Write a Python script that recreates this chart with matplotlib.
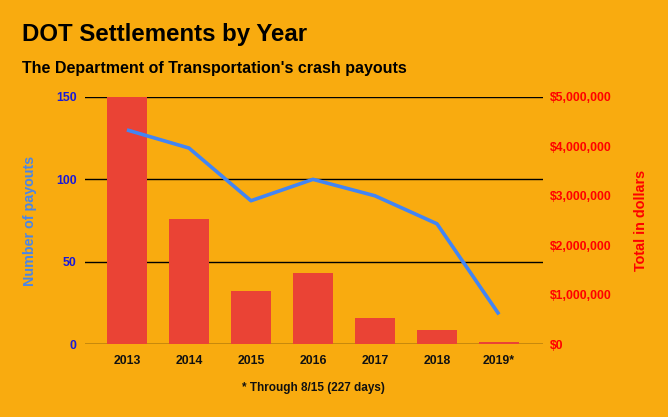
import matplotlib
matplotlib.use("Agg")
import matplotlib.pyplot as plt
from matplotlib.ticker import FuncFormatter

years = ["2013", "2014", "2015", "2016", "2017", "2018", "2019*"]
payouts = [130, 119, 87, 100, 90, 73, 18]
dollars = [5000000, 2525000, 1065000, 1430000, 520000, 277000, 35000]

left_ticks = [0, 50, 100, 150]
right_ticks = [0, 1000000, 2000000, 3000000, 4000000, 5000000]

bg = "#F9AB0F"
bar_color = "#EA4335"
line_color = "#4285F4"

plt.rcParams["font.family"] = ["Liberation Sans", "DejaVu Sans"]
plt.rcParams["font.weight"] = "bold"

fig = plt.figure(figsize=(6.68, 4.17), dpi=100, facecolor=bg)
ax = fig.add_axes([0.1272, 0.175, 0.6857, 0.5924])
ax2 = ax.twinx()

# bars on the right (dollar) axis, drawn below the line axis
x = range(len(years))
ax2.bar(x, dollars, width=0.645, color=bar_color, zorder=2)
ax2.set_ylim(0, 5000000)
ax2.set_yticks(right_ticks)
ax2.yaxis.set_major_formatter(FuncFormatter(lambda v, p: "${:,.0f}".format(v)))
ax2.tick_params(axis="y", length=0, pad=5, labelsize=8.8, labelcolor="#FF0000")
ax2.set_ylabel("Total in dollars", color="#FF0000", fontsize=10.4, fontweight="bold", labelpad=16)

# gridlines follow the left axis ticks
for t in left_ticks:
    ax2.axhline(t / 150 * 5000000, color="black", lw=1, zorder=1)

ax.plot(x, payouts, color=line_color, lw=2.6, solid_capstyle="butt", zorder=3)
ax.set_ylim(0, 150)
ax.set_yticks(left_ticks)
ax.tick_params(axis="y", length=0, pad=6, labelsize=8.8, labelcolor="#1A1AD8")
ax.set_ylabel("Number of payouts", color="#4A86E8", fontsize=10.3, fontweight="bold", labelpad=14)
ax.set_xlim(-0.677, 6.71)
ax.set_xticks(list(x))
ax.set_xticklabels(years)
ax.tick_params(axis="x", length=0, pad=8, labelsize=8.8, labelcolor="#111111")

ax.set_zorder(ax2.get_zorder() + 1)
ax.patch.set_visible(False)
ax2.patch.set_visible(False)
for a in (ax, ax2):
    for s in a.spines.values():
        s.set_visible(False)

fig.text(22 / 668, 1 - 35 / 417, "DOT Settlements by Year", fontsize=17.3, fontweight="bold",
         va="center", ha="left", color="black")
fig.text(22 / 668, 1 - 68 / 417, "The Department of Transportation's crash payouts", fontsize=11.5,
         fontweight="bold", va="center", ha="left", color="black")
fig.text(313 / 668, 1 - 388 / 417, "* Through 8/15 (227 days)", fontsize=8.5, fontweight="bold",
         va="center", ha="center", color="#111111")

fig.savefig("out.png", dpi=100, facecolor=bg)
